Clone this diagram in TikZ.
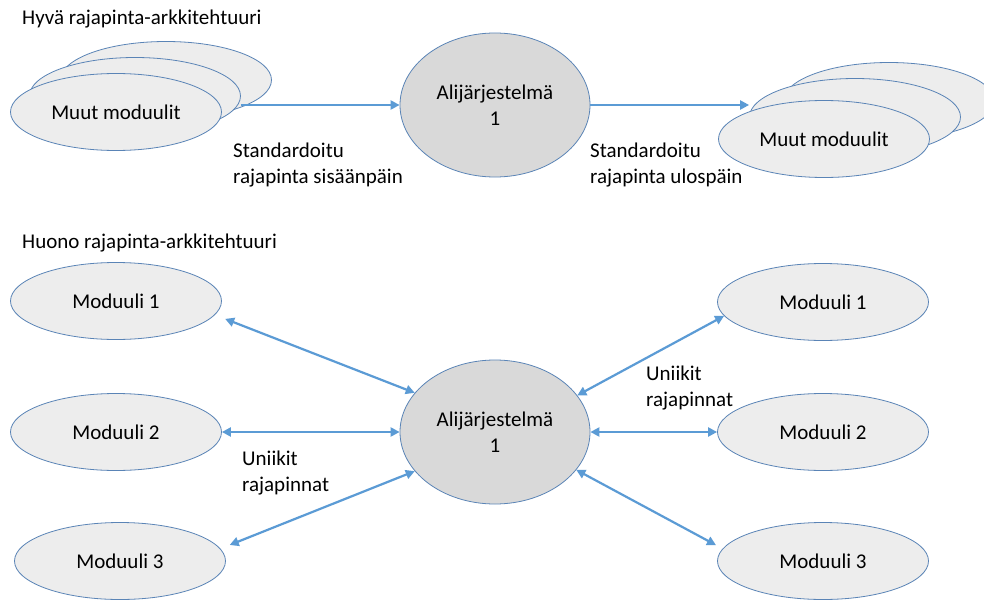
\documentclass[tikz,border=0pt]{standalone}
\usepackage{fontspec}
\setmainfont{Carlito}
\usetikzlibrary{shapes.geometric,arrows.meta}
\definecolor{arrowblue}{HTML}{5B9BD5}
\definecolor{edgeblue}{HTML}{5A84B6}
\definecolor{modfill}{HTML}{EDEDED}
\definecolor{sysfill}{HTML}{D9D9D9}
\begin{document}
\begin{tikzpicture}[x=1pt,y=-1pt,
  every node/.style={font=\fontsize{21}{25.6}\selectfont},
  module/.style={ellipse, draw=edgeblue, line width=0.8pt, fill=modfill,
    minimum width=211pt, minimum height=77pt, inner sep=0pt},
  subsys/.style={ellipse, draw=edgeblue, line width=0.8pt, fill=sysfill,
    minimum width=190pt, minimum height=144pt, inner sep=0pt},
  link/.style={draw=arrowblue, line width=2.2pt, -{Triangle[length=9pt,width=9pt]}},
  biline/.style={draw=arrowblue, line width=2.2pt,
    {Triangle[length=9pt,width=9pt]}-{Triangle[length=9pt,width=9pt]}},
  note/.style={align=left, inner sep=0pt, anchor=base west}
]
\useasboundingbox (0,0) rectangle (984,599);
\fill[white] (0,0) rectangle (984,599);

% ---- good interface architecture ----
\node[note] (ttl1) at (22,25) {Hyvä rajapinta-arkkitehtuuri};

\node[module] (lback) at (166,80) {};
\node[module] (lmid) at (135,96) {};
\node[module] (lfront) at (116,112) {Muut moduulit};

\node[subsys, label={[align=center]center:Alijärjestelmä\\1}] (c1) at (495,105) {};

\node[module] (rback) at (889,101) {};
\node[module] (rmid) at (855,117) {};
\node[module] (rfront) at (824,139) {Muut moduulit};

\draw[link] (lmid.east |- c1) -- (c1.west);
\draw[link] (c1.east) -- (rmid.west |- c1);

% two-line notes: the base anchor sits on the last line
\node[note] (inlbl) at (233,183) {Standardoitu\\rajapinta sisäänpäin};
\node[note] (outlbl) at (590,183) {Standardoitu\\rajapinta ulospäin};

% ---- bad interface architecture ----
\node[note] (ttl2) at (22,248) {Huono rajapinta-arkkitehtuuri};

\node[subsys, label={[align=center]center:Alijärjestelmä\\1}] (c2) at (495,432) {};

\node[module] (lm1) at (116,301) {Moduuli 1};
\node[module] (lm2) at (116,432) {Moduuli 2};
\node[module] (lm3) at (120,561) {Moduuli 3};
\node[module] (rm1) at (823,302) {Moduuli 1};
\node[module] (rm2) at (823,432) {Moduuli 2};
\node[module] (rm3) at (823,561) {Moduuli 3};

\draw[biline, shorten <=11pt] (lm1.-8) -- (c2.154);
\draw[biline] (lm2.east) -- (c2.west);
\draw[biline, shorten <=10pt] (lm3.7) -- (c2.206);
\draw[biline] (rm1.188) -- (c2.24);
\draw[biline] (rm2.west) -- (c2.east);
\draw[biline, shorten <=7.5pt] (rm3.173) -- (c2.-25);

\node[note] (ulbl1) at (646,406) {Uniikit\\rajapinnat};
\node[note] (ulbl2) at (242,491) {Uniikit\\rajapinnat};
\end{tikzpicture}
\end{document}
